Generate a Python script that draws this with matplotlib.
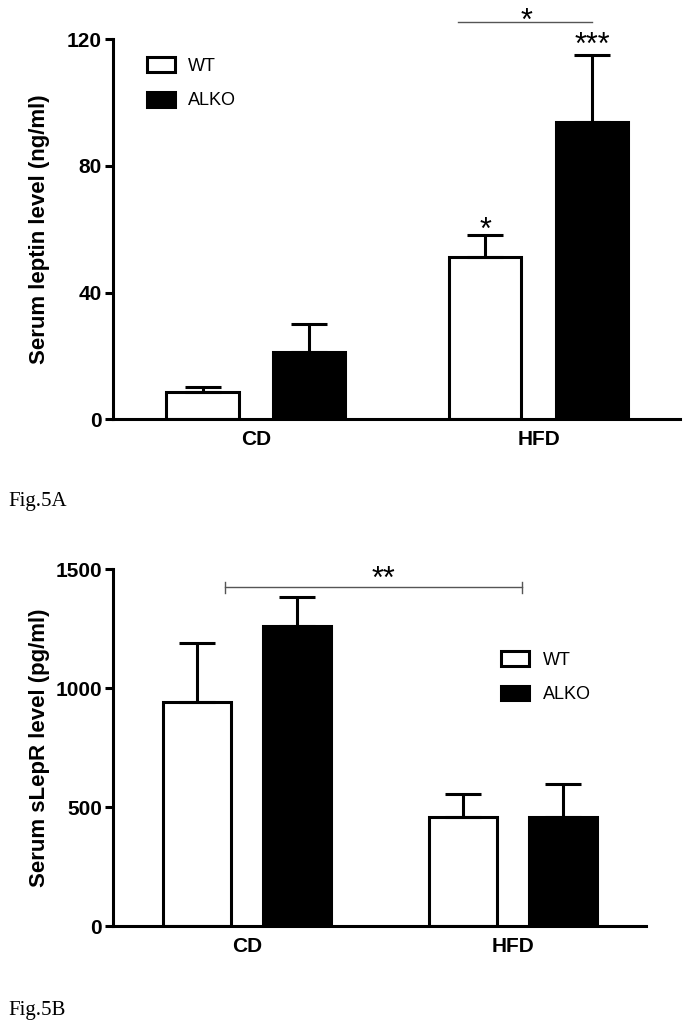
import numpy as np
import matplotlib
matplotlib.use("Agg")
import matplotlib.pyplot as plt

plt.rcParams["font.family"] = ["Liberation Sans", "DejaVu Sans"]

# data
groups = ["CD", "HFD"]
series = ["WT", "ALKO"]

leptin_wt = [8.6, 51.2]
leptin_wt_err = [1.5, 7.0]
leptin_alko = [21.3, 93.8]
leptin_alko_err = [8.8, 21.2]

slepr_wt = [943, 457]
slepr_wt_err = [248, 97]
slepr_alko = [1262, 460]
slepr_alko_err = [120, 136]

leptin_ticks = [0, 40, 80, 120]
slepr_ticks = [0, 500, 1000, 1500]

LW = 2.2
BAR_W = 0.255
OFF = 0.1885
STAR = 22


def draw_panel(ax, wt, wt_err, alko, alko_err, ylim, yticks, ylabel, labx):
    x = np.arange(len(groups))
    for vals, errs, xs, face, lab in [
        (wt, wt_err, x - OFF, "white", series[0]),
        (alko, alko_err, x + OFF, "black", series[1]),
    ]:
        ax.bar(xs, vals, width=BAR_W, color=face, edgecolor="black",
               linewidth=LW, label=lab, zorder=2)
        ax.errorbar(xs, vals, yerr=[np.zeros(len(errs)), errs], fmt="none",
                    ecolor="black", elinewidth=LW, capsize=13, capthick=LW,
                    zorder=3)
    ax.set_ylim(*ylim)
    ax.set_yticks(yticks)
    ax.set_xticks(x)
    ax.set_xticklabels(groups, fontsize=15, fontweight="bold")
    ax.tick_params(axis="x", length=0, pad=8)
    ax.tick_params(axis="y", length=6, width=LW, pad=2, labelsize=15)
    for t in ax.get_yticklabels():
        t.set_fontweight("bold")
    ax.set_ylabel(ylabel, fontsize=16, fontweight="bold")
    ax.yaxis.set_label_coords(labx, 0.5)
    ax.spines["top"].set_visible(False)
    ax.spines["right"].set_visible(False)
    ax.spines["left"].set_linewidth(LW)
    ax.spines["bottom"].set_linewidth(LW)
    ax.set_xlim(-0.505, 1.5)


def add_legend(ax, anchor):
    ax.legend(loc="upper left", bbox_to_anchor=anchor, frameon=False,
              fontsize=13, handlelength=1.55, handleheight=0.88,
              handletextpad=0.75, labelspacing=0.93)


fig = plt.figure(figsize=(6.9, 10.23), dpi=100)

# panel A
ax1 = fig.add_axes([0.1638, 0.5901, 0.8217, 0.3715])
draw_panel(ax1, leptin_wt, leptin_wt_err, leptin_alko, leptin_alko_err,
           (0, 120), leptin_ticks, "Serum leptin level (ng/ml)", -0.111)
add_legend(ax1, (0.031, 0.995))
ax1.text(1 - OFF, leptin_wt[1] + leptin_wt_err[1] - 1.2, "*", ha="center",
         va="baseline", fontsize=STAR)
ax1.text(1 + OFF, leptin_alko[1] + leptin_alko_err[1] + 0.4, "***",
         ha="center", va="baseline", fontsize=STAR)
ax1.plot([0.714, 1 + OFF], [125.5, 125.5], color="#555555", lw=1.0,
         clip_on=False)
ax1.text(0.958, 123.1, "*", ha="center", va="baseline", fontsize=STAR)

# panel B
ax2 = fig.add_axes([0.1638, 0.0948, 0.7725, 0.3487])
draw_panel(ax2, slepr_wt, slepr_wt_err, slepr_alko, slepr_alko_err,
           (0, 1500), slepr_ticks, "Serum sLepR level (pg/ml)", -0.118)
add_legend(ax2, (0.6975, 0.816))
ax2.plot([-0.085, 1.035], [1424, 1424], color="#555555", lw=1.0,
         clip_on=False)
ax2.plot([-0.085, -0.085], [1400, 1446], color="#555555", lw=1.0)
ax2.plot([1.035, 1.035], [1400, 1446], color="#555555", lw=1.0)
ax2.text(0.511, 1421, "**", ha="center", va="baseline", fontsize=STAR)

fig.text(8 / 690, 1 - 506 / 1023, "Fig.5A", family="Liberation Serif",
         fontsize=15, ha="left", va="baseline")
fig.text(8 / 690, 1 - 1015 / 1023, "Fig.5B", family="Liberation Serif",
         fontsize=15, ha="left", va="baseline")

fig.savefig("out.png", dpi=100, facecolor="white")
